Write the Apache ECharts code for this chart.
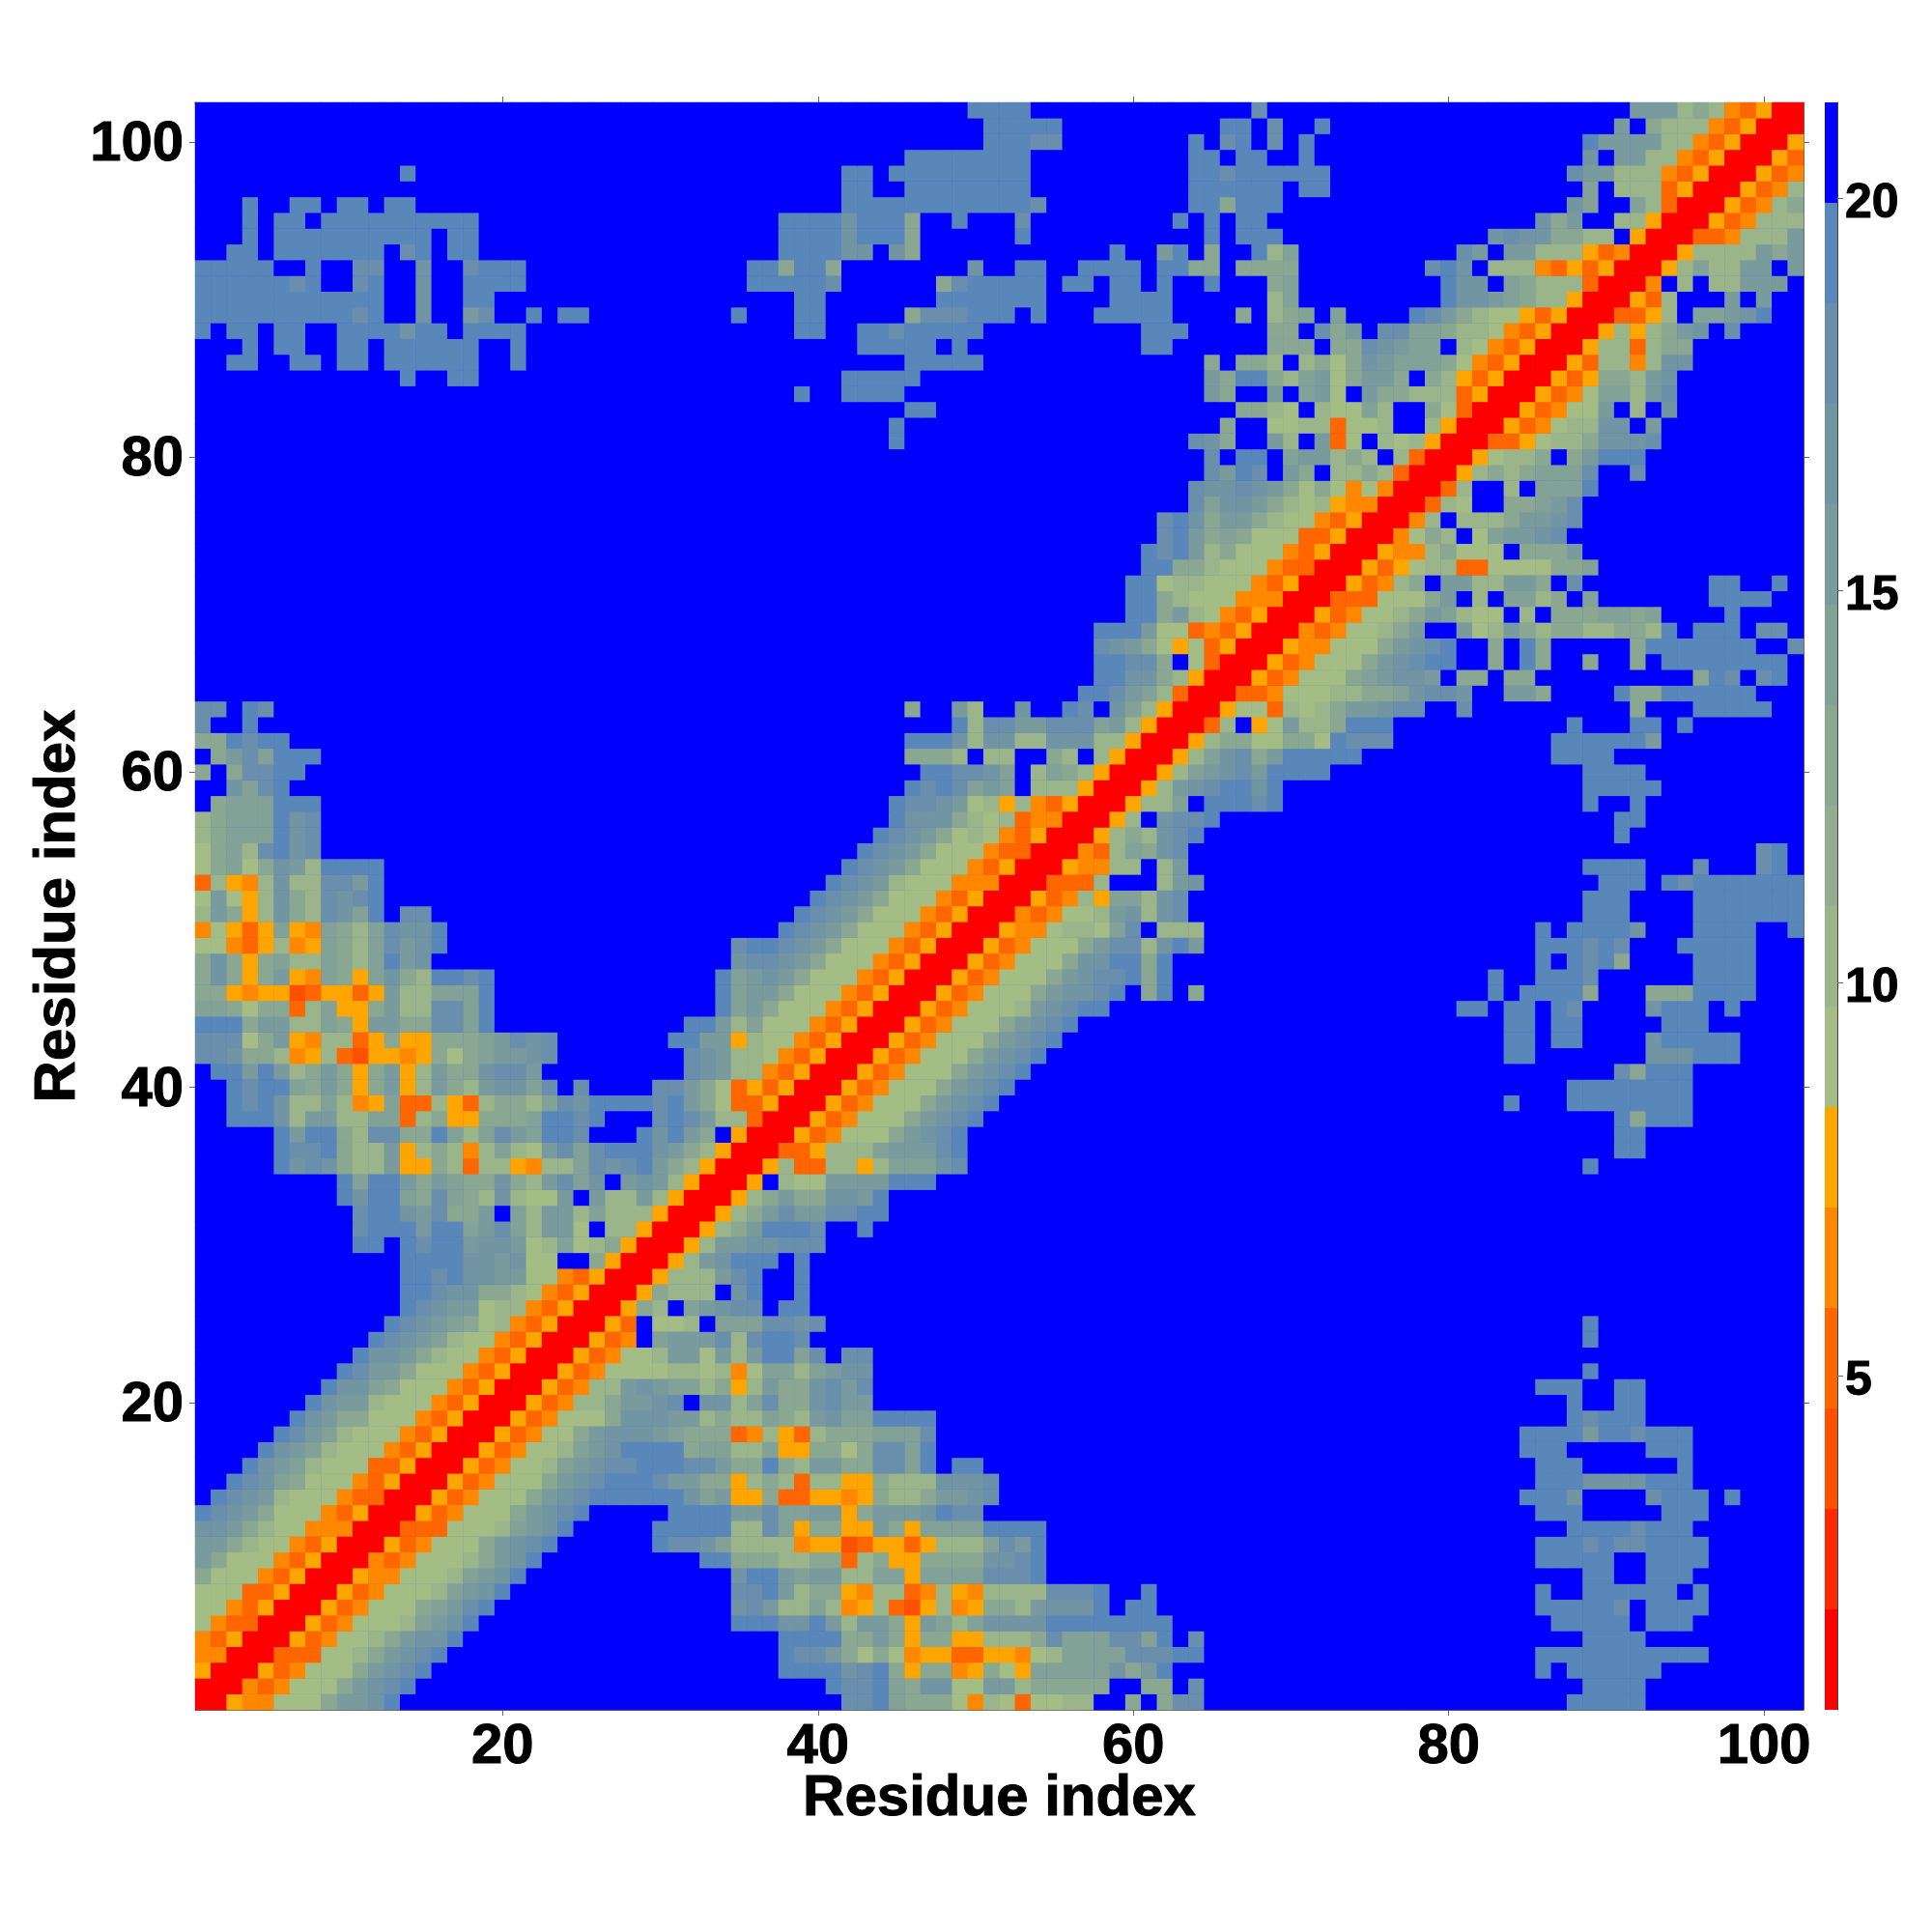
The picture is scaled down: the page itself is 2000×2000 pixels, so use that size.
<!DOCTYPE html>
<html>
<head>
<meta charset="utf-8">
<style>html,body{margin:0;padding:0;background:#fff}#c{width:2000px;height:2000px}</style>
<script src="https://cdn.jsdelivr.net/npm/echarts@6/dist/echarts.min.js"></script>
</head>
<body>
<div id="c"></div>
<script>
const residueCount = 102;
const tickLabels = [20, 40, 60, 80, 100];
const colorTicks = [5, 10, 15, 20];
const bandEdges = [0.74, 2.02, 3.3, 4.58, 5.86, 7.14, 8.42, 9.7, 10.98, 12.26, 13.54, 14.82, 16.1, 17.38, 18.66, 19.94, 21.22];
const bandColors = ['#ff0000', '#ff2800', '#ff5000', '#ff6600', '#ff8800', '#ffa500', '#a3bd85', '#9ab58a', '#92ae8e', '#8aa792', '#82a197', '#7a9b9d', '#7295a4', '#6a8fad', '#5a87ba', '#0000ff'];
const codeValue = {0: 1.38, 1: 2.66, 2: 3.94, 3: 5.22, 4: 6.5, 5: 7.78, 6: 9.06, 7: 10.34, 8: 12.9, 9: 14.18, a: 15.46, b: 16.74, c: 18.02, d: 19.3, f: 20.58};
// one entry per residue r: "col:codes" runs for col >= r, the rest is the far (blue) level
const rows = [
"1:005446668aabd 42:ccd9888647636677 60:8 62:8cc 88:ddddd",
"2:004346668abcd 41:dccd98bb66aa788888 61:88 64:c 89:dddd",
"3:005346668abcd 38:ddddbcd85884586599999b8ad 86:d 88:dddddd",
"4:003336678abcd 38:dcca868645533554679999cccdd 86:ddddddddddd",
"5:005346678abbd 38:dddd88a8588557778c999cc9d 64:c 89:dddd",
"6:0053466679abd 35:dddbbda7aa85a979bbbbdddddddd 87:ddddd 93:ddd",
"7:0053466689acd 35:bca7797457325745887abbbd 60:dd 86:dddddc 93:dddd",
"8:0053466679abd 35:ccda7885477347547777cccd 61:d 86:d 89:dddddd 96:d",
"9:0054466679abd 35:bdda9aa779959999cccd 89:dd 93:ddd",
"10:0043466678abd 33:dd8887788378558888bbcd 86:ddddd 93:dddd",
"11:005346668abcd 30:dccb977774552355357779cad 86:dddcdccdddd",
"12:0033366679abd 30:ddddd77c958855a859999dddd 88:ddddcddd",
"13:005346668abcd 31:ddddaac99aa58aaabdcc 86:ddd 94:ddd",
"14:005346668abcddddddb9a5583355458778aabc 85:dddb 93:cddd 98:d",
"15:005346668abcdddcaa885787377558777bbbc 86:dddbbbbddd",
"16:005346679abccdddcca88d87aa88cc9d 49:dd 86:ddd 95:d",
"17:005346679abdddd899779558868cc9d 85:ddd 93:ddd",
"18:00534668abbba9888347537888999c 85:ddddaddcddd",
"19:005346668bbbaa7877987ab99dddd 88:dcddd",
"20:00534778aabc 33:bb79c88bcaa 88:d 91:dd",
"21:0053477aba997857a88bcac 86:ddd 91:dd",
"22:0053466667767469979abb 89:d",
"23:00534667aa6a7add9c 42:cc",
"24:00534 30:9aaac7cddc 89:d",
"25:0053 30:667 34:999ccbc 89:d",
"26:00587 32:9abcc 38:dd",
"27:0058777 35:bd 39:d",
"28:005777acd 39:d",
"29:0057abddd 39:d",
"30:0057aabbccc",
"31:00578adddc 43:d",
"32:00578acaaccdd",
"33:00578a88bbad",
"34:005 38:766aaaaddd",
"35:0057337757999bc 89:d",
"36:003357779aaacd 91:dd",
"37:005346668abcd 91:dd",
"38:005346668abcd 91:d8ddd",
"39:005346668abcd 84:d 88:dddddddd",
"40:005346668abcd 88:dddddddd",
"41:005346668abcd 91:c8ddd",
"42:005346668abcd 84:dd 93:bbbddd",
"43:005346668abcd 84:dd 87:dd 93:bddddd",
"44:005346668abcd 84:dd 87:dd 94:ddd",
"45:005346667abcdd 81:dd 84:dd 87:dc 93:bddd 98:d",
"46:005346668abbcd 61:8d 64:8 83:d 85:dddd8 93:888dddd",
"47:005346668abccd8d 83:d 86:dddc 96:dddd",
"48:005346668bbdd8d 86:d 88:dcd8 96:dddd",
"49:005346668acc7bda 86:dddcdc 95:ddddd",
"50:0054467769c 62:777 86:d 88:ddddb 96:dddd 102:d",
"51:00434667ab7bc 89:ddd 96:ddddddd",
"52:0053475997bc 89:ddd 96:ddddddd",
"53:003337 62:7ab 90:ddd 94:dcddddddd",
"54:0054477 62:7a 89:dddd 96:c 100:cd",
"55:0043798bc 100:cd",
"56:005787bcd 91:d",
"57:0057 62:bccd 91:dd",
"58:005779 65:dddcd 89:d 92:d",
"59:0057abcddbd 89:ddddd",
"60:00579abcadddd 89:dddd",
"61:00579bc8addddd 87:dddd",
"62:00578866886dccc 87:dddddda",
"63:0037 68:56a778ddd 88:d 92:dd 95:d",
"64:0056637678aabcc 81:c 92:8 96:ddddd",
"65:0033466677889bccb 84:aa8 91:d88dddddd",
"66:0053466689abba 81:88 84:88 96:8dc 100:cd",
"67:005346668abcdd 83:8 85:d8 89:8 92:8 94:dddddddd",
"68:005446668abcd 83:8 85:d8 92:8ddddddd 102:c",
"69:004346678a 81:a67a878877887d 96:ddd 100:cc",
"70:005346678a9766 85:7 87:8889989 98:d",
"71:003336668a 82:7 84:9978 89:9 97:dddd",
"72:0053478 80:aa77aa8 88:c 97:dd 101:d",
"73:00535677336666889",
"74:0054478666 85:888a",
"75:004687 82:69aabc",
"76:0047 81:7778aabc",
"77:00376 84:889ac",
"78:0037 84:7 86:999d",
"79:0057878999c 92:c",
"80:0056778 88:8addd",
"81:003356778bbbc",
"82:00534677bb 93:a",
"83:0053466a 92:7 94:b",
"84:005346997ac",
"85:00535887ab",
"86:00537747bb",
"87:005773788",
"88:0057578ab 98:c",
"89:003357 96:99abd",
"90:00537 98:a 100:a",
"91:004 95:7 97:77aaa",
"92:0057977aa 102:a",
"93:0057777a8a",
"94:00334777a",
"95:00534777",
"96:0053478",
"97:005347",
"98:00534",
"99:0053",
"100:005",
"101:00",
"102:0"
];

const residues = Array.from({length: residueCount}, (_, i) => String(i + 1));
const grid = residues.map(() => residues.map(() => 'f'));
rows.forEach((line, ri) => {
  line.split(' ').forEach(seg => {
    const [start, codes] = seg.split(':');
    [...codes].forEach((code, k) => {
      const ci = +start - 1 + k;
      grid[ri][ci] = code;
      grid[ci][ri] = code;
    });
  });
});
const cells = [];
grid.forEach((row, ri) => row.forEach((code, ci) => cells.push([ci, ri, codeValue[code]])));

const pieces = bandColors.map((color, i) => ({gte: bandEdges[i], lt: bandEdges[i + 1], color}));
const isTick = (idx) => tickLabels.includes(idx + 1);
const tickGray = '#666666';
const labelBase = {color: '#000', fontFamily: '"Liberation Sans", Arial, sans-serif', fontWeight: 'bold', textBorderColor: '#000', textBorderWidth: 1};
const shifted = (fontSize, top) => ({formatter: '{a|{value}}', rich: {a: Object.assign({fontSize, padding: [top, 0, 0, 0]}, labelBase)}});

function catAxis(position, extra) {
  return Object.assign({
    type: 'category', data: residues, position,
    axisLine: {show: true, lineStyle: {color: tickGray, width: 1}},
    axisTick: {show: true, inside: false, length: 6, alignWithLabel: true, interval: isTick, lineStyle: {color: tickGray, width: 1}},
    axisLabel: {show: false},
    splitLine: {show: false}
  }, extra || {});
}
const nameStyle = Object.assign({fontSize: 60}, labelBase);

const stackSeries = bandColors.map((color, i) => ({
  type: 'bar', xAxisIndex: 2, yAxisIndex: 2, stack: 'bar', barWidth: '100%', silent: true,
  itemStyle: {color},
  data: [bandEdges[i + 1] - (i === 0 ? 0 : bandEdges[i])]
}));

const chart = echarts.init(document.getElementById('c'), null, {renderer: 'canvas'});
chart.setOption({
  animation: false,
  backgroundColor: '#ffffff',
  grid: [
    {left: 202, top: 106, width: 1665, height: 1664, show: true, backgroundColor: bandColors[15], borderWidth: 0},
    {left: 1889, top: 106, width: 13, height: 1664}
  ],
  xAxis: [
    catAxis('bottom', {gridIndex: 0, axisLabel: Object.assign({show: true, interval: isTick, fontSize: 58, margin: 10}, labelBase), name: 'Residue index', nameLocation: 'middle', nameGap: 62, nameMoveOverlap: false, nameTextStyle: nameStyle}),
    catAxis('top', {gridIndex: 0}),
    {type: 'category', gridIndex: 1, data: ['d'], axisLine: {show: false}, axisTick: {show: false}, axisLabel: {show: false}}
  ],
  yAxis: [
    catAxis('left', {gridIndex: 0, axisLabel: Object.assign({show: true, interval: isTick, fontSize: 58, margin: 12}, labelBase, shifted(58, 6)), name: 'Residue index', nameLocation: 'middle', nameGap: 112, nameMoveOverlap: false, nameTextStyle: nameStyle}),
    catAxis('right', {gridIndex: 0}),
    {
      type: 'value', gridIndex: 1, position: 'right', min: bandEdges[0], max: bandEdges[bandEdges.length - 1],
      splitLine: {show: false},
      axisLine: {show: true, lineStyle: {color: '#444', width: 1}},
      axisTick: {show: true, length: 6, customValues: colorTicks, lineStyle: {color: tickGray, width: 1}},
      axisLabel: Object.assign({show: true, fontSize: 50, margin: 8, customValues: colorTicks}, labelBase, shifted(50, 12))
    }
  ],
  visualMap: {type: 'piecewise', show: false, seriesIndex: 0, dimension: 2, pieces},
  series: [
    {type: 'heatmap', xAxisIndex: 0, yAxisIndex: 0, data: cells, progressive: 0, silent: true, itemStyle: {borderWidth: 0}, emphasis: {disabled: true}}
  ].concat(stackSeries)
});
</script>
</body>
</html>
